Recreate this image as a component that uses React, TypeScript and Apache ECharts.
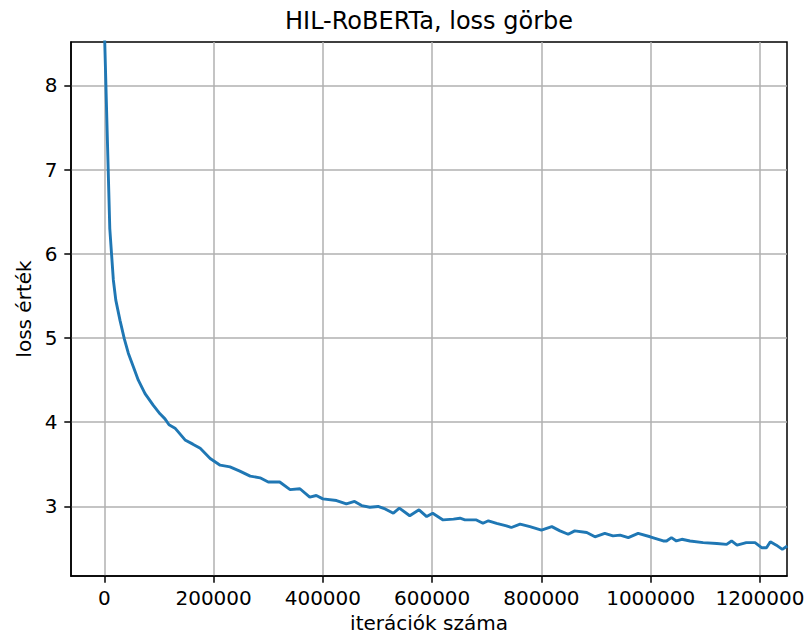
import React, { useEffect, useRef } from "react";
import * as echarts from "echarts";

const iterations = [
  0, 10000, 16500, 21000, 28700, 36600, 43900, 53100, 62200, 74500, 89700,
  101900, 111000, 118400, 129400, 147700, 162000, 175500, 193700, 212000,
  230000, 248000, 267000, 285000, 300000, 321000, 340000, 358000, 376000,
  388000, 400000, 425000, 443000, 458000, 471000, 486000, 501000, 514000,
  529000, 540000, 559000, 576000, 590000, 601000, 620000, 639000, 651000,
  660000, 681000, 693000, 703000, 718000, 736000, 745000, 761000, 779000,
  800000, 819000, 834000, 849000, 861000, 883000, 898000, 916000, 931000,
  944000, 959000, 977000, 999000, 1023000, 1029000, 1038000, 1047000,
  1057000, 1072000, 1096000, 1121000, 1139000, 1148000, 1158000, 1175000,
  1191000, 1203000, 1212000, 1219000, 1230000, 1241000, 1250000,
];

const losses = [
  8.7, 6.3, 5.69, 5.45, 5.21, 4.99, 4.82, 4.66, 4.5, 4.34, 4.2,
  4.1, 4.04, 3.97, 3.93, 3.79, 3.74, 3.69, 3.57, 3.49,
  3.47, 3.42, 3.36, 3.34, 3.29, 3.29, 3.2, 3.21, 3.11,
  3.13, 3.09, 3.07, 3.03, 3.06, 3.01, 2.99, 3.0, 2.97,
  2.92, 2.98, 2.89, 2.96, 2.88, 2.92, 2.84, 2.85, 2.86,
  2.84, 2.84, 2.8, 2.83, 2.8, 2.77, 2.75, 2.79, 2.76,
  2.72, 2.76, 2.71, 2.67, 2.71, 2.69, 2.64, 2.68, 2.65,
  2.66, 2.63, 2.68, 2.64, 2.59, 2.59, 2.63, 2.59,
  2.61, 2.59, 2.57, 2.56, 2.55, 2.59, 2.54, 2.57,
  2.57, 2.51, 2.51, 2.58, 2.54, 2.49, 2.53,
];

const xTicks = [0, 200000, 400000, 600000, 800000, 1000000, 1200000];
const yTicks = [3, 4, 5, 6, 7, 8];

const titleText = "HIL-RoBERTa, loss görbe";
const xName = "iterációk száma";
const yName = "loss érték";

const FONT = "DejaVu Sans";

export default function App() {
  const ref = useRef<HTMLDivElement>(null);

  useEffect(() => {
    if (!ref.current) return;
    const chart = echarts.init(ref.current, undefined, { renderer: "svg" });
    const data = iterations.map((x, i) => [x, losses[i]]);
    const axisCommon = {
      axisLine: { show: true, onZero: false, lineStyle: { color: "#000", width: 1.5 } },
      axisTick: { show: true, inside: false, length: 6.7, lineStyle: { color: "#000", width: 1.5 } },
      splitLine: { show: true, lineStyle: { color: "#b0b0b0", width: 1.5 } },
    };
    chart.setOption({
      animation: false,
      backgroundColor: "#fff",
      grid: {
        left: 71,
        right: 18,
        top: 42,
        bottom: 60,
        containLabel: false,
        outerBoundsMode: "none",
        show: true,
        borderColor: "#000",
        borderWidth: 1.5,
        backgroundColor: "transparent",
      },
      xAxis: {
        type: "value",
        min: -61000,
        max: 1249500,
        ...axisCommon,
        axisTick: { ...axisCommon.axisTick, customValues: xTicks },
        axisLabel: {
          customValues: xTicks,
          margin: 11.5,
          fontFamily: FONT,
          fontSize: 20,
          color: "#000",
          formatter: (v: number) => String(v),
        },
      },
      yAxis: {
        type: "value",
        min: 2.174,
        max: 8.516,
        ...axisCommon,
        axisTick: { ...axisCommon.axisTick, customValues: yTicks },
        axisLabel: {
          customValues: yTicks,
          margin: 13.4,
          fontFamily: FONT,
          fontSize: 20,
          color: "#000",
          formatter: (v: number) => String(v),
        },
      },
      graphic: [
        {
          type: "text",
          x: 429,
          y: 21,
          style: {
            text: titleText,
            fontFamily: FONT,
            fontSize: 24,
            lineHeight: 24,
            fill: "#000",
            align: "center",
            verticalAlign: "middle",
          },
        },
        {
          type: "text",
          x: 429,
          y: 623,
          style: {
            text: xName,
            fontFamily: FONT,
            fontSize: 20,
            lineHeight: 20,
            fill: "#000",
            align: "center",
            verticalAlign: "middle",
          },
        },
        {
          type: "text",
          x: 24,
          y: 309,
          rotation: Math.PI / 2,
          style: {
            text: yName,
            fontFamily: FONT,
            fontSize: 20,
            lineHeight: 20,
            fill: "#000",
            align: "center",
            verticalAlign: "middle",
          },
        },
      ],
      series: [
        {
          type: "line",
          data,
          showSymbol: false,
          symbol: "none",
          clip: true,
          lineStyle: { color: "#1f77b4", width: 2.9 },
          itemStyle: { color: "#1f77b4" },
        },
      ],
    });
    return () => chart.dispose();
  }, []);

  return (
    <div
      ref={ref}
      style={{ position: "absolute", left: 0, top: 0, width: 805, height: 636 }}
    />
  );
}
